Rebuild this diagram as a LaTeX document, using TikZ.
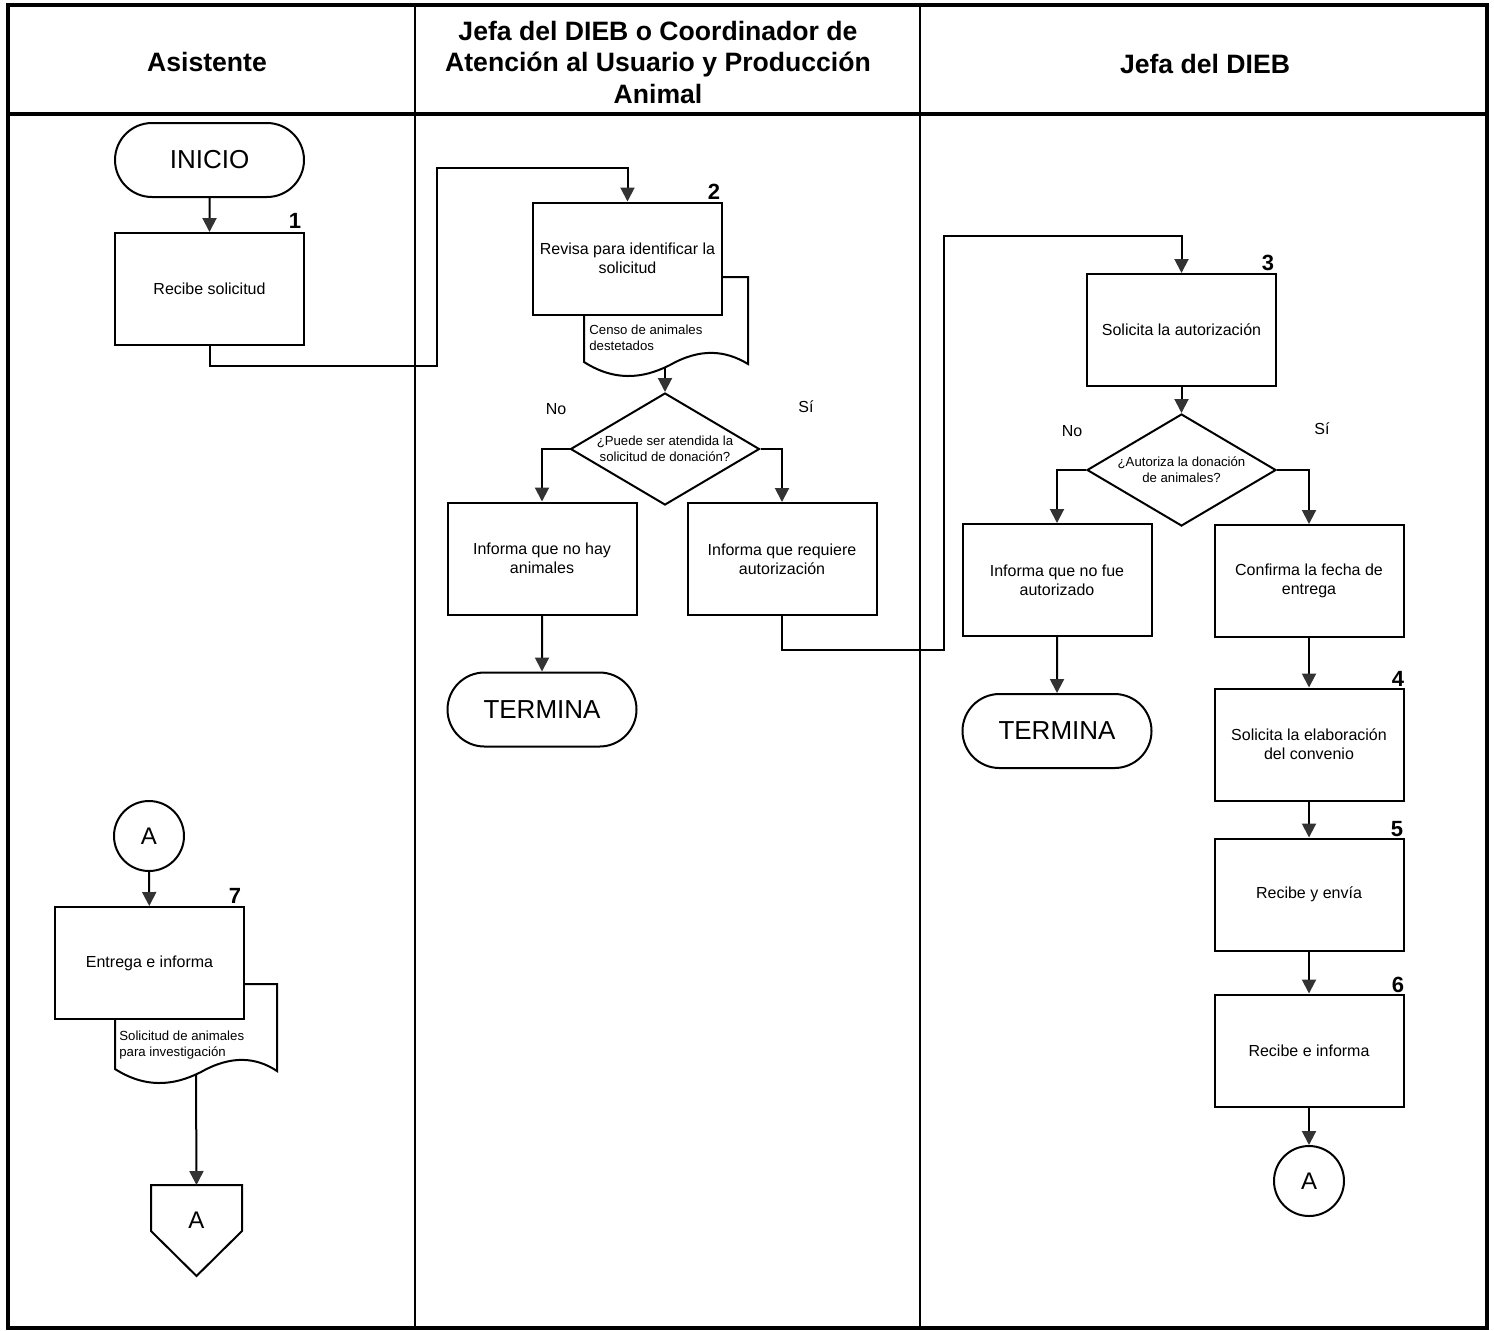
\documentclass[tikz,border=0pt]{standalone}
\usepackage{fontspec}
\setmainfont{Liberation Sans}
\usetikzlibrary{shapes.geometric,shapes.misc,arrows.meta,calc}
\begin{document}
\begin{tikzpicture}[x=0.5pt,y=-0.5pt,
 proc/.style={draw, line width=1pt, fill=white, minimum width=94.5pt, minimum height=56pt, inner sep=1pt, align=center, font=\fontsize{8}{9.5}\selectfont},
 term/.style={draw, line width=1pt, fill=white, rounded rectangle, minimum width=94.5pt, minimum height=37pt, inner sep=0pt, font=\fontsize{13}{15}\selectfont},
 dec/.style={draw, line width=1pt, fill=white, diamond, minimum width=94.5pt, minimum height=56pt, inner sep=0pt},
 dectext/.style={align=center, font=\fontsize{6.6}{8}\selectfont, inner sep=0pt},
 doctext/.style={align=left, font=\fontsize{6.6}{8}\selectfont, inner sep=0pt, anchor=west},
 doc/.style={line width=1pt, draw, fill=white},
 num/.style={font=\bfseries\fontsize{11}{13}\selectfont, inner sep=0pt},
 conn/.style={draw, line width=1pt, fill=white, circle, minimum size=35pt, inner sep=0pt, font=\fontsize{12}{14}\selectfont},
 yn/.style={font=\fontsize{8}{9.5}\selectfont, inner sep=0pt},
 head/.style={font=\bfseries\fontsize{13.3}{15.75}\selectfont, align=center, inner sep=0pt},
 arr/.style={line width=1pt, -{Triangle[width=7pt,length=7pt,color=black!80]}},
 frame/.style={line width=1.6pt}
]
\useasboundingbox (0,0) rectangle (1494,1330);
\fill[white] (0,0) rectangle (1494,1330);

% frame and lanes
\draw[frame] (8,5) rectangle (1487,1328);
\draw[line width=1.8pt] (8,114) -- (1487,114);
\draw[line width=1.2pt] (415,5) -- (415,1328);
\draw[line width=1.2pt] (920,5) -- (920,1328);

\node[head] (h1) at (207,62) {Asistente};
\node[head] (h2) at (658,62) {Jefa del DIEB o Coordinador de\\Atención al Usuario y Producción\\Animal};
\node[head] (h3) at (1205,64) {Jefa del DIEB};

% ---- lane 1 top
\node[term] (inicio) at (209.5,160) {INICIO};
\node[proc] (b1) at (209.5,289) {Recibe solicitud};
\node[num] (n1) at (295,221) {1};
\draw[arr] (inicio) -- (b1);

% ---- lane 2
\draw[doc] (584,277) -- (748,277) -- (748,364) .. controls (725,350) and (700,348) .. (670,365) .. controls (650,375) and (620,385) .. (584,362) -- cycle;
\coordinate (d2out) at (665,368);
\node[proc] (b2) at (627.5,258.5) {Revisa para identificar la\\solicitud};
\node[num] (n2) at (714,192) {2};
\node[doctext] (d2t) at (589,338) {Censo de animales\\destetados};

\coordinate (w1) at (437,366);
\coordinate (w2) at (437,168);
\draw[arr] (b1.south) |- (w1) -- (w2) -| (b2.north);

\node[dec] (dec1) at (665,449) {};
\node[dectext] (dec1t) at (dec1) {¿Puede ser atendida la\\solicitud de donación?};
\draw[arr] (d2out) -- (dec1.north);
\node[yn] (no1) at (556,409) {No};
\node[yn] (si1) at (806,407) {Sí};

\node[proc] (b3) at (542,558.5) {Informa que no hay\\animales};
\node[proc] (b4) at (782,559) {Informa que requiere\\autorización};
\draw[arr] (dec1.west) -| (b3.north);
\draw[arr] (dec1.east) -| (b4.north);
\node[term] (term1) at (542,709.5) {TERMINA};
\draw[arr] (b3) -- (term1);

% ---- lane 3
\node[proc] (b5) at (1181.5,330) {Solicita la autorización};
\node[num] (n3) at (1268,263) {3};
\coordinate (w3) at (944,650);
\coordinate (w4) at (944,236);
\draw[arr] (b4.south) |- (w3) -- (w4) -| (b5.north);

\node[dec] (dec2) at (1181.5,470) {};
\node[dectext] (dec2t) at (dec2) {¿Autoriza la donación\\de animales?};
\draw[arr] (b5) -- (dec2);
\node[yn] (no2) at (1072,431) {No};
\node[yn] (si2) at (1322,429) {Sí};

\node[proc] (b6) at (1057,580) {Informa que no fue\\autorizado};
\node[proc] (b7) at (1309,581) {Confirma la fecha de\\entrega};
\draw[arr] (dec2.west) -| (b6.north);
\draw[arr] (dec2.east) -| (b7.north);
\node[term] (term2) at (1057,731) {TERMINA};
\draw[arr] (b6) -- (term2);

\node[proc] (b8) at (1309,744.5) {Solicita la elaboración\\del convenio};
\node[num] (n4) at (1398,679) {4};
\draw[arr] (b7) -- (b8);
\node[proc] (b9) at (1309,894.5) {Recibe y envía};
\node[num] (n5) at (1397,829) {5};
\draw[arr] (b8) -- (b9);
\node[proc] (b10) at (1309,1050.5) {Recibe e informa};
\node[num] (n6) at (1398,985) {6};
\draw[arr] (b9) -- (b10);
\node[conn] (ca2) at (1309,1181) {A};
\draw[arr] (b10) -- (ca2);

% ---- lane 1 bottom
\node[conn] (ca1) at (149,836) {A};
\begin{scope}[shift={(-469,707)}]
\draw[doc] (584,277) -- (746,277) -- (746,364) .. controls (725,350) and (700,348) .. (670,365) .. controls (650,375) and (620,385) .. (584,362) -- cycle;
\coordinate (d7out) at (665,368);
\end{scope}
\node[proc] (b11) at (149.5,963) {Entrega e informa};
\node[num] (n7) at (235,896) {7};
\node[doctext] (d7t) at (119,1045) {Solicitud de animales\\para investigación};
\draw[arr] (ca1) -- (b11);

\draw[line width=1pt, fill=white] (151,1185) -- (242,1185) -- (242,1231) -- (196.5,1276) -- (151,1231) -- cycle;
\node[font=\fontsize{12}{14}\selectfont, inner sep=0pt] (offA) at (196.5,1220) {A};
\coordinate (offtop) at (196.5,1185);
\draw[arr] (d7out) -- (offtop);
\end{tikzpicture}
\end{document}
